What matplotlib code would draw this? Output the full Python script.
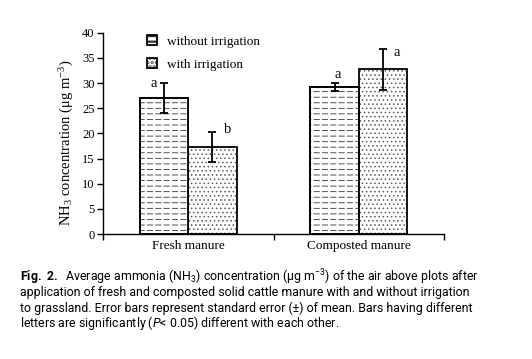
import numpy as np
import matplotlib
matplotlib.use('Agg')
import matplotlib.pyplot as plt

plt.rcParams.update({'font.family': 'Liberation Serif',
                     'mathtext.fontset': 'custom',
                     'mathtext.rm': 'Roboto',
                     'mathtext.it': 'Roboto:italic',
                     'mathtext.bf': 'Roboto:bold',
                     'hatch.linewidth': 0.6})

categories = ['Fresh manure', 'Composted manure']
series = ['without irrigation', 'with irrigation']
without_irr = [27.0, 29.3]
with_irr = [17.3, 32.7]
without_err = [3.0, 0.8]
with_err = [2.9, 4.1]
without_letters = ['a', 'a']
with_letters = ['b', 'a']

caption = [
    r"$\mathbf{Fig.\ 2.}$  Average ammonia (NH$_3$) concentration (μg m$^{-3}$) of the air above plots after",
    "application of fresh and composted solid cattle manure with and without irrigation",
    "to grassland. Error bars represent standard error (±) of mean. Bars having different",
    r"letters are significantly ($\mathit{P}$< 0.05) different with each other.",
]

fig = plt.figure(figsize=(5.32, 3.59), dpi=100)
ax = fig.add_axes([0.1936, 0.348, 0.641, 0.561])

pos = np.arange(len(categories)) + 0.5
width = 0.284
off = 0.142

b1 = ax.bar(pos - off, without_irr, width, color='white', edgecolor='black',
            linewidth=1.3, hatch='---', label=series[0])
b2 = ax.bar(pos + off, with_irr, width, color='white', edgecolor='black',
            linewidth=1.3, hatch='....', label=series[1])
for b in b1:
    b._hatch_color = (0.2, 0.2, 0.2, 1.0)
for b in b2:
    b._hatch_color = (0.35, 0.35, 0.35, 1.0)

# break the horizontal lines into dashes, then redraw the outlines
plt.rcParams['hatch.linewidth'] = 1.6
cut = ax.bar(pos - off, without_irr, width, fill=False, edgecolor='white',
             linewidth=0, hatch='||')
for b in cut:
    b._hatch_color = (1, 1, 1, 1)
ax.bar(pos - off, without_irr, width, fill=False, edgecolor='black', linewidth=1.3)

ax.errorbar(pos - off, without_irr, yerr=without_err, ls='none', color='black',
            elinewidth=1.3, capsize=3, capthick=1.3)
ax.errorbar(pos + off, with_irr, yerr=with_err, ls='none', color='black',
            elinewidth=1.3, capsize=3, capthick=1.3)

# significance letters
lx = [-0.06, 0.02]
rx = [0.09, 0.08]
for i in range(len(categories)):
    ax.text(pos[i] - off + lx[i], without_irr[i] + without_err[i] + (0.0 if i == 0 else 1.6),
            without_letters[i], ha='center', va='center', fontsize=10.5)
    ax.text(pos[i] + off + rx[i], with_irr[i] + with_err[i] + (0.5 if i == 0 else -0.8),
            with_letters[i], ha='center', va='center', fontsize=10.5)

ax.set_xlim(0, 2)
ax.set_ylim(0, 40)
ax.set_yticks(range(0, 41, 5))
ax.set_xticks([0, 1, 2])
ax.set_xticklabels([])
ax.set_xticks(pos, minor=True)
ax.set_xticklabels(categories, minor=True, fontsize=9.5)
ax.tick_params(axis='x', which='minor', length=0, pad=4)
ax.tick_params(axis='x', which='major', length=4, width=1)
ax.tick_params(axis='y', length=4, width=1, labelsize=9, pad=2)
ax.spines['top'].set_visible(False)
ax.spines['right'].set_visible(False)
ax.spines['left'].set_linewidth(1)
ax.spines['bottom'].set_linewidth(1)
ax.set_ylabel(r'NH$\mathregular{_3}$ concentration (μg m$\mathregular{^{-3}}$)', fontsize=10.5,
              va='center')
ax.yaxis.set_label_coords(-0.105, 0.455)

ax.legend(handles=[b1, b2], loc='upper left', bbox_to_anchor=(0.095, 1.045), frameon=False,
          fontsize=9.5, handlelength=0.7, handleheight=0.7, handletextpad=0.8,
          labelspacing=0.8)

ys = [277, 292.5, 308, 323.5]
for line, y in zip(caption, ys):
    fig.text(20 / 532, 1 - y / 359, line, family='Roboto', fontsize=8.9,
             ha='left', va='center')

plt.savefig('out.png', dpi=100)
